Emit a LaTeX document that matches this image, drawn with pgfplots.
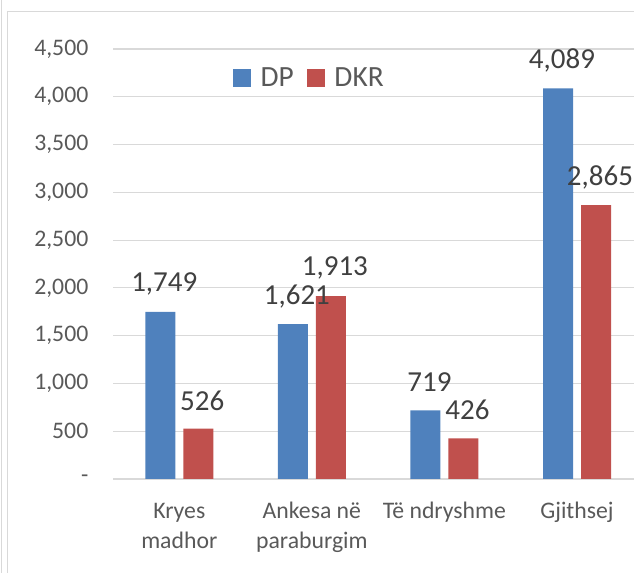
\documentclass[border=0pt]{standalone}
\usepackage{pgfplots}
\pgfplotsset{compat=1.18}
\usepackage{fontspec}
\setmainfont{Carlito}
\definecolor{dpblue}{HTML}{4F81BD}
\definecolor{dkrred}{HTML}{C0504D}
\definecolor{gridc}{HTML}{D9D9D9}
\definecolor{txt}{HTML}{595959}
\definecolor{lbl}{HTML}{404040}
\begin{document}
\begin{tikzpicture}[x=0.75pt,y=0.75pt]
\useasboundingbox (0,0) rectangle (634,573);
\clip (0,0) rectangle (634,573);
\draw[gridc, line width=0.75pt] (1.5,-10) -- (1.5,580);
\draw[gridc, line width=0.75pt] (7,-10) -- (7,561) -- (650,561);
\begin{axis}[
  at={(84.75pt,70.5pt)}, anchor=south west,
  scale only axis,
  width=390.75pt, height=322.5pt,
  xmin=-0.5, xmax=3.43,
  ymin=0, ymax=4500,
  ybar=6pt, bar width=22.5pt,
  axis line style={draw=none},
  major tick length=0pt,
  ymajorgrids,
  grid style={gridc, line width=0.9pt},
  ytick={0,500,...,4500},
  yticklabels={{-\hspace{8.25pt}},500,{1,000},{1,500},{2,000},{2,500},{3,000},{3,500},{4,000},{4,500}},
  yticklabel style={font=\fontsize{17.8}{22.5}\selectfont, text=txt, xshift=-15pt},
  xtick={0,1,2,3},
  xticklabels={{\strut Kryes\\madhor},{\strut Ankesa në\\paraburgim},{\strut Të ndryshme},{\strut Gjithsej}},
  xticklabel style={align=center, font=\fontsize{17.8}{22.5}\selectfont, text=txt, yshift=-10.6pt},
  /pgf/number format/.cd, 1000 sep={,}, assume math mode=true, /pgfplots/.cd,
  nodes near coords,
  every node near coord/.append style={anchor=center, yshift=21pt, xshift=3pt, font=\fontsize{21.75}{26}\selectfont, text=lbl},
  legend columns=2,
  legend style={at={(axis description cs:0.2303,0.9326)}, anchor=west, draw=none, fill=none, inner sep=0pt,
    font=\fontsize{22}{26}\selectfont, text=txt,
    /tikz/every odd column/.append style={column sep=5pt},
    /tikz/every even column/.append style={column sep=8pt}},
]
\addplot[fill=dpblue, draw=none, legend image code/.code={\fill[dpblue] (0pt,-6.75pt) rectangle (13.5pt,6.75pt);}]
  coordinates {(0,1749) (1,1621) (2,719) (3,4089)};
\addplot[fill=dkrred, draw=none, legend image code/.code={\fill[dkrred] (0pt,-6.75pt) rectangle (13.5pt,6.75pt);}]
  coordinates {(0,526) (1,1913) (2,426) (3,2865)};
\legend{DP,DKR}
\end{axis}
\end{tikzpicture}
\end{document}
